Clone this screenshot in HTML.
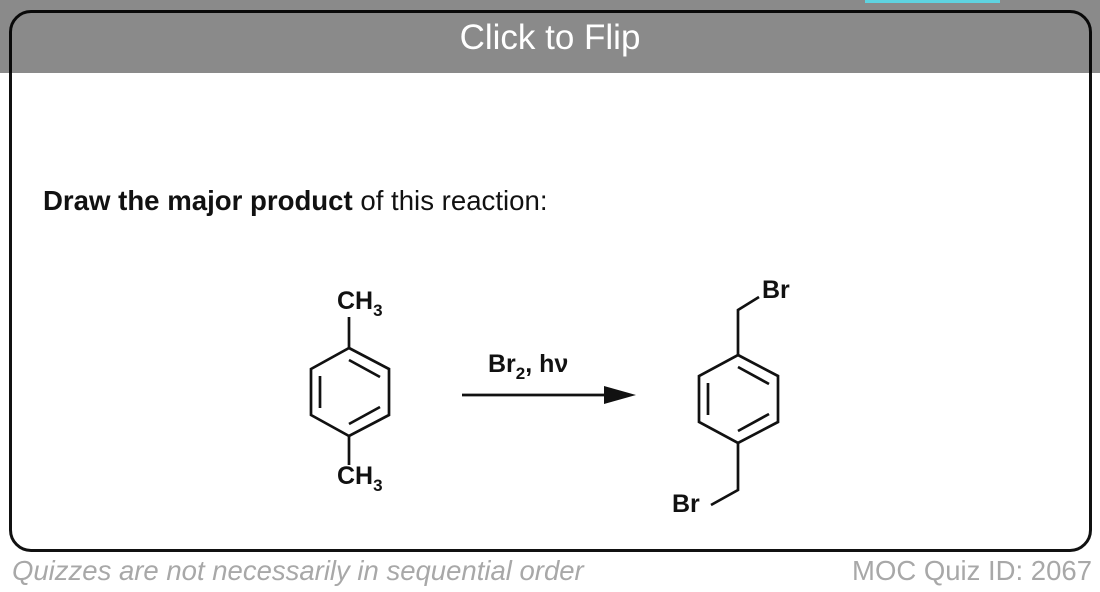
<!DOCTYPE html>
<html><head><style>
html,body{margin:0;padding:0;width:1100px;height:592px;background:#fff;overflow:hidden;font-family:"Liberation Sans",sans-serif;position:relative}
.card{position:absolute;left:9px;top:10px;width:1077px;height:536px;border:3px solid #111;border-radius:22px;background:#fff}
.hdr{position:absolute;left:0;top:0;width:1100px;height:73px;background:rgba(0,0,0,0.46);}
.hdr span{position:absolute;left:0;width:1100px;top:18px;text-align:center;color:#fff;font-size:35px}
.teal{position:absolute;left:865px;top:0;width:135px;height:3px;background:#5fd3e0}
.q{position:absolute;left:43px;top:185px;font-size:27.6px;color:#111}
.foot{position:absolute;top:555px;font-size:27.5px;color:#a8a8a8}
</style></head><body>
<div class="card"></div>
<div class="hdr"><span>Click to Flip</span></div>
<div class="teal"></div>
<div class="q"><b>Draw the major product</b> of this reaction:</div>
<svg width="1100" height="592" style="position:absolute;left:0;top:0" font-family="Liberation Sans" font-weight="bold" font-size="25" fill="#111">
<g stroke="#111" stroke-width="2.7" fill="none">
<polygon points="349,348 389,369 389,415 349,436 311,415 311,369"/>
<line x1="349" y1="360" x2="380" y2="377"/>
<line x1="320" y1="376" x2="320" y2="408"/>
<line x1="349" y1="424" x2="380" y2="407"/>
<line x1="349" y1="348" x2="349" y2="317"/>
<line x1="349" y1="436" x2="349" y2="465"/>
<polygon points="738,355 778,376 778,422 738,443 699,422 699,376"/>
<line x1="738" y1="367" x2="769" y2="384"/>
<line x1="708" y1="383" x2="708" y2="415"/>
<line x1="738" y1="431" x2="769" y2="414"/>
<polyline points="738,355 738,310 759,297"/>
<polyline points="738,443 738,490 711,505"/>
<line x1="462" y1="395" x2="612" y2="395"/>
</g>
<polygon points="636,395 604,386 604,404" fill="#111"/>
<text x="337" y="309">CH<tspan font-size="17" dy="7">3</tspan></text>
<text x="337" y="484">CH<tspan font-size="17" dy="7">3</tspan></text>
<text x="488" y="372">Br<tspan font-size="17" dy="7">2</tspan><tspan dy="-7">, hν</tspan></text>
<text x="762" y="298">Br</text>
<text x="672" y="512">Br</text>
</svg>
<div class="foot" style="left:12px;font-style:italic">Quizzes are not necessarily in sequential order</div>
<div class="foot" style="right:8px">MOC Quiz ID: 2067</div>
</body></html>
